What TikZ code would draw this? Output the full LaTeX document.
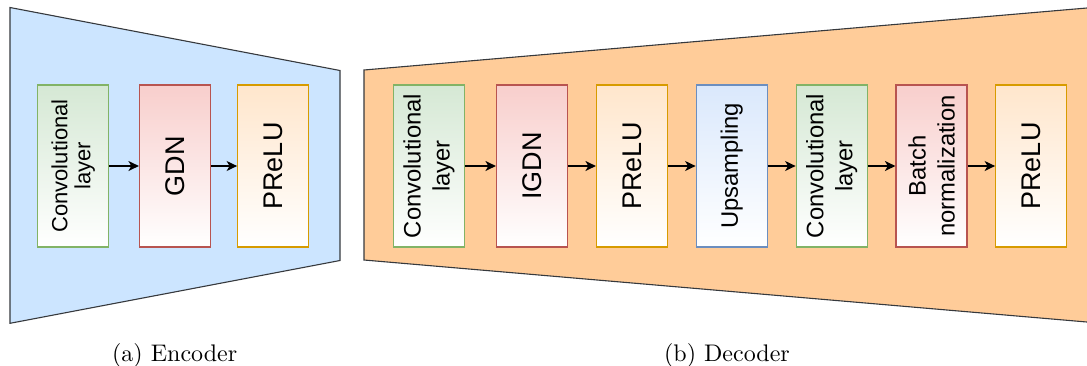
\documentclass[tikz,border=0pt]{standalone}
\usepackage{fontspec}
\newfontfamily\boxfont{Liberation Sans}
\newfontfamily\capfont{lmroman10-regular.otf}
\usetikzlibrary{arrows.meta}
\definecolor{encfill}{HTML}{CCE5FF}
\definecolor{decfill}{HTML}{FFCC99}
\definecolor{trapline}{HTML}{36393D}
\definecolor{gfill}{HTML}{D5E8D4}\definecolor{gline}{HTML}{82B366}
\definecolor{rfill}{HTML}{F8CECC}\definecolor{rline}{HTML}{B85450}
\definecolor{ofill}{HTML}{FFE6CC}\definecolor{oline}{HTML}{D79B00}
\definecolor{bfill}{HTML}{DAE8FC}\definecolor{bline}{HTML}{6C8EBF}
\tikzset{
  trap/.style={draw=trapline, line width=1.1pt, line join=miter},
  blk/.style={draw, line width=1.2pt, minimum width=71pt, minimum height=162pt, inner sep=0pt, bottom color=white},
  gblk/.style={blk, draw=gline, top color=gfill},
  rblk/.style={blk, draw=rline, top color=rfill},
  oblk/.style={blk, draw=oline, top color=ofill},
  bblk/.style={blk, draw=bline, top color=bfill},
  bigtxt/.style={rotate=90, inner sep=0pt, font=\boxfont\fontsize{27}{31}\selectfont},
  enctxt/.style={rotate=90, inner sep=0pt, align=center, font=\boxfont\fontsize{22}{23}\selectfont},
  dectxt/.style={rotate=90, inner sep=0pt, align=center, font=\boxfont\fontsize{23.8}{29}\selectfont},
  arr/.style={line width=1.4pt, -{Stealth[length=10.5pt, width=10pt, inset=3pt]}},
  captxt/.style={anchor=base, inner sep=0pt, font=\capfont\fontsize{24}{28}\selectfont}
}
\begin{document}
\begin{tikzpicture}[x=1pt,y=-1pt]
\useasboundingbox (0,0) rectangle (1087,365);
\clip (0,0) rectangle (1087,365);
% trapezoids
\draw[trap, fill=encfill] (10,7.5) -- (340,70.5) -- (340,260.5) -- (10,323.3) -- cycle;
\draw[trap, fill=decfill] (364,70) -- (1095,7.3) -- (1095,322.7) -- (364,260) -- cycle;
% encoder
\node[gblk] (e1) at (73.2,166) {};
\node[rblk] (e2) at (175,166) {};
\node[oblk] (e3) at (273.2,166) {};
\node[enctxt] (te1) at (e1) {Convolutional\\layer};
\node[bigtxt] (te2) at (e2) {GDN};
\node[bigtxt] (te3) at (e3) {PReLU};
\draw[arr] (e1.east) -- (e2.west);
\draw[arr] (e2.east) -- (e3.west);
% decoder
\node[gblk] (d1) at (429,166) {};
\node[rblk] (d2) at (532,166) {};
\node[oblk] (d3) at (632,166) {};
\node[bblk] (d4) at (731.7,166) {};
\node[gblk] (d5) at (831.7,166) {};
\node[rblk] (d6) at (931.5,166) {};
\node[oblk] (d7) at (1031.2,166) {};
\node[dectxt] (td1) at (d1) {Convolutional\\layer};
\node[bigtxt] (td2) at (d2) {IGDN};
\node[bigtxt] (td3) at (d3) {PReLU};
\node[dectxt] (td4) at (d4) {Upsampling};
\node[dectxt] (td5) at (d5) {Convolutional\\layer};
\node[dectxt] (td6) at (d6) {Batch\\normalization};
\node[bigtxt] (td7) at (d7) {PReLU};
\draw[arr] (d1.east) -- (d2.west);
\draw[arr] (d2.east) -- (d3.west);
\draw[arr] (d3.east) -- (d4.west);
\draw[arr] (d4.east) -- (d5.west);
\draw[arr] (d5.east) -- (d6.west);
\draw[arr] (d6.east) -- (d7.west);
% captions
\node[captxt] (ca) at (174.7,361.5) {(a) Encoder};
\node[captxt] (cb) at (727,361.5) {(b) Decoder};
\end{tikzpicture}
\end{document}
